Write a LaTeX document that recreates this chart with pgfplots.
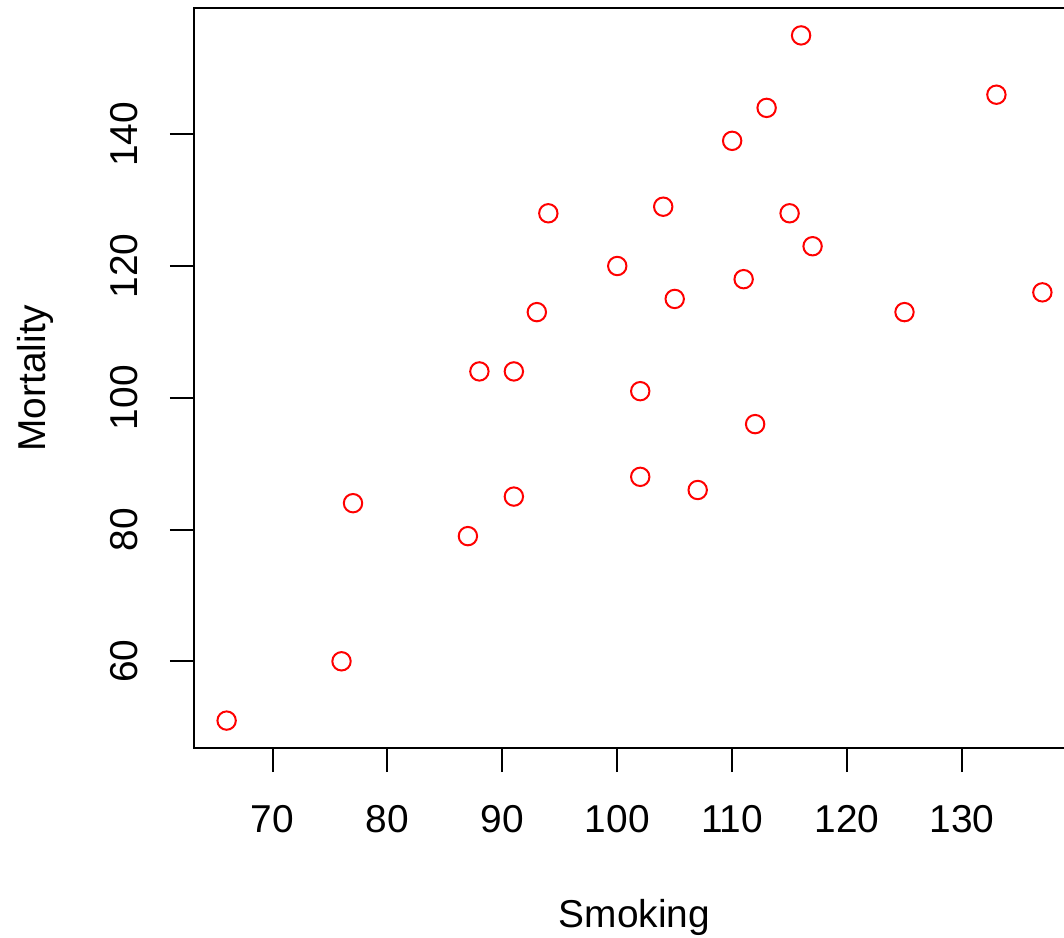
\documentclass[border=0pt]{standalone}
\usepackage{fontspec}
\setmainfont{Liberation Sans}
\usepackage{pgfplots}
\pgfplotsset{compat=1.18}
\begin{document}
\begin{tikzpicture}
\begin{axis}[
  at={(0,0)}, anchor=south west,
  scale only axis,
  width=440.5bp, height=370bp,
  xmin=63.16, xmax=139.84, ymin=46.84, ymax=159.16,
  xtick={70,80,...,130}, ytick={60,80,...,140},
  tick align=outside, xtick pos=bottom, ytick pos=left,
  major tick length=12bp,
  every tick/.style={black, line width=1bp},
  axis line style={line width=1bp},
  font=\fontsize{19.5}{23}\selectfont,
  /pgf/number format/assume math mode=true,
  xticklabel style={anchor=north, inner sep=0pt, yshift=-16.5bp},
  yticklabel style={rotate=90, anchor=south, inner sep=0pt, yshift=16bp},
  xlabel={Smoking}, ylabel={Mortality},
  xlabel style={at={(axis description cs:0.5,0)}, anchor=base, inner sep=0pt, yshift=-89.5bp},
  ylabel style={at={(axis description cs:-0.1691,0.5)}, rotate=0, anchor=base, inner sep=0pt},
  clip=false,
]
\addplot[only marks, mark=o, mark size=4.6bp, draw=red, mark options={line width=1bp, draw=red}] coordinates {
(77,84) (137,116) (117,123) (94,128) (116,155) (102,101) (111,118) (93,113)
(88,104) (102,88) (91,104) (104,129) (107,86) (112,96) (113,144) (110,139)
(125,113) (133,146) (115,128) (105,115) (87,79) (91,85) (100,120) (76,60) (66,51)
};
\end{axis}
\pgfresetboundingbox
\path[use as bounding box] (-97bp,-95bp) rectangle (435bp,374bp);
\end{tikzpicture}
\end{document}
